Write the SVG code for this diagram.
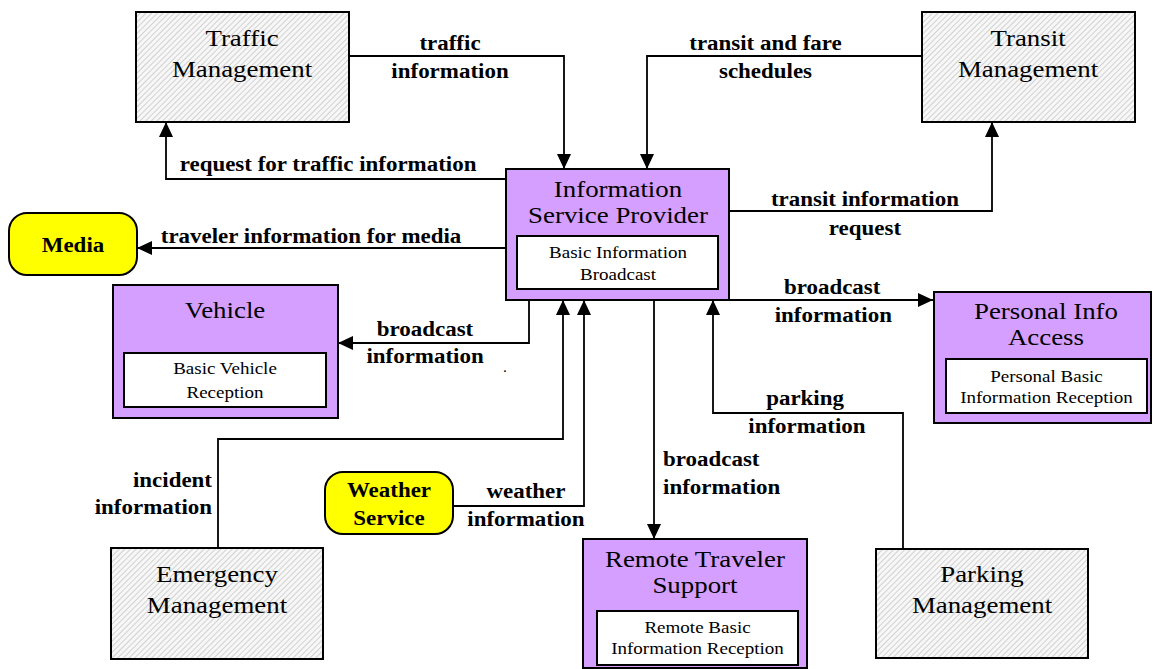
<svg xmlns="http://www.w3.org/2000/svg" width="1153" height="669" viewBox="0 0 1153 669">
<style>
.ext{fill:url(#hatch);stroke:#000;stroke-width:2}
.sub{fill:#d49fff;stroke:#000;stroke-width:2}
.inner{fill:#fff;stroke:#000;stroke-width:2}
.term{fill:#ffff00;stroke:#000;stroke-width:2}
.t{font-family:"Liberation Serif","Times New Roman",serif;font-size:24px;fill:#000;text-anchor:middle}
.s{font-family:"Liberation Serif","Times New Roman",serif;font-size:17px;fill:#000;text-anchor:middle}
.l{font-family:"Liberation Serif","Times New Roman",serif;font-size:20.5px;font-weight:bold;fill:#000;text-anchor:middle}
.c{fill:none;stroke:#000;stroke-width:1.8;marker-end:url(#arr)}
</style>
<defs>
<pattern id="hatch" patternUnits="userSpaceOnUse" width="4" height="4" patternTransform="rotate(45)">
<rect width="4" height="4" fill="#f7f7f7"/>
<line x1="0" y1="0" x2="0" y2="4" stroke="#b8b8b8" stroke-width="1.2"/>
</pattern>
<marker id="arr" markerUnits="userSpaceOnUse" markerWidth="15" markerHeight="14" viewBox="0 0 15 14" refX="15" refY="7" orient="auto">
<path d="M0,0 L15,7 L0,14 z" fill="#000"/>
</marker>
</defs>
<rect width="1153" height="669" fill="#fff"/>

<g id="connectors">
<path class="c" d="M349,56 H564 V169"/>
<path class="c" d="M922,56 H647 V169"/>
<path class="c" d="M506,179 H166 V122"/>
<path class="c" d="M729,211 H992 V122"/>
<path class="c" d="M506,248 H137"/>
<path class="c" d="M529,300 V343 H338"/>
<path class="c" d="M218,548 V439 H563 V300"/>
<path class="c" d="M453,506 H584 V300"/>
<path class="c" d="M654,300 V539"/>
<path class="c" d="M903,549 V413 H713 V300"/>
<path class="c" d="M729,300 H933"/>
<g transform="scale(1.12 1)">
<text class="l" x="401.8" y="50">traffic</text>
<text class="l" x="401.8" y="78">information</text>
<text class="l" x="683.5" y="50">transit and fare</text>
<text class="l" x="683.5" y="78">schedules</text>
<text class="l" x="292.9" y="171">request for traffic information</text>
<text class="l" x="772.3" y="206">transit information</text>
<text class="l" x="772.3" y="235">request</text>
<text class="l" x="277.7" y="243">traveler information for media</text>
<text class="l" x="743" y="294">broadcast</text>
<text class="l" x="744" y="322">information</text>
<text class="l" x="379.5" y="336">broadcast</text>
<text class="l" x="379.5" y="363">information</text>
<text class="l" x="718.8" y="405">parking</text>
<text class="l" x="720.5" y="433">information</text>
<text class="l" x="189.3" y="487" style="text-anchor:end">incident</text>
<text class="l" x="189.3" y="514" style="text-anchor:end">information</text>
<text class="l" x="469.6" y="498">weather</text>
<text class="l" x="469.6" y="526">information</text>
<text class="l" x="592" y="466" style="text-anchor:start">broadcast</text>
<text class="l" x="592" y="494" style="text-anchor:start">information</text>
<text class="s" x="450.9" y="372" style="font-size:14px">.</text>
</g>
</g>

<g id="traffic-management">
<rect class="ext" x="136" y="12" width="213" height="110"/>
<g transform="scale(1.12 1)">
<text class="t" x="216.1" y="46">Traffic</text>
<text class="t" x="216.1" y="77">Management</text>
</g>
</g>

<g id="transit-management">
<rect class="ext" x="922" y="12" width="213" height="110"/>
<g transform="scale(1.12 1)">
<text class="t" x="917.9" y="46">Transit</text>
<text class="t" x="917.9" y="77">Management</text>
</g>
</g>

<g id="isp">
<rect class="sub" x="506" y="169" width="223" height="131"/>
<rect class="inner" x="517" y="236" width="201" height="53"/>
<g transform="scale(1.12 1)">
<text class="t" x="551.8" y="197">Information</text>
<text class="t" x="551.8" y="223">Service Provider</text>
<text class="s" x="551.8" y="258">Basic Information</text>
<text class="s" x="551.8" y="280">Broadcast</text>
</g>
</g>

<g id="media">
<rect class="term" x="9" y="213" width="128" height="62" rx="18"/>
<g transform="scale(1.12 1)">
<text class="l" x="65.2" y="252">Media</text>
</g>
</g>

<g id="vehicle">
<rect class="sub" x="113" y="285" width="225" height="133"/>
<rect class="inner" x="124" y="353" width="202" height="54"/>
<g transform="scale(1.12 1)">
<text class="t" x="200.9" y="318">Vehicle</text>
<text class="s" x="200.9" y="374">Basic Vehicle</text>
<text class="s" x="200.9" y="398">Reception</text>
</g>
</g>

<g id="personal-info-access">
<rect class="sub" x="934" y="292" width="217" height="131"/>
<rect class="inner" x="946" y="359" width="201" height="54"/>
<g transform="scale(1.12 1)">
<text class="t" x="933.9" y="319">Personal Info</text>
<text class="t" x="933.9" y="345">Access</text>
<text class="s" x="934.4" y="382">Personal Basic</text>
<text class="s" x="934.4" y="403">Information Reception</text>
</g>
</g>

<g id="weather-service">
<rect class="term" x="325" y="472" width="128" height="62" rx="18"/>
<g transform="scale(1.12 1)">
<text class="l" x="347.3" y="497">Weather</text>
<text class="l" x="347.3" y="525">Service</text>
</g>
</g>

<g id="emergency-management">
<rect class="ext" x="111" y="548" width="212" height="111"/>
<g transform="scale(1.12 1)">
<text class="t" x="193.75" y="582">Emergency</text>
<text class="t" x="193.75" y="613">Management</text>
</g>
</g>

<g id="remote-traveler-support">
<rect class="sub" x="583" y="539" width="224" height="129"/>
<rect class="inner" x="597" y="611" width="201" height="54"/>
<g transform="scale(1.12 1)">
<text class="t" x="620.5" y="567">Remote Traveler</text>
<text class="t" x="620.5" y="593">Support</text>
<text class="s" x="622.8" y="633">Remote Basic</text>
<text class="s" x="622.8" y="654">Information Reception</text>
</g>
</g>

<g id="parking-management">
<rect class="ext" x="876" y="549" width="212" height="109"/>
<g transform="scale(1.12 1)">
<text class="t" x="876.8" y="582">Parking</text>
<text class="t" x="876.8" y="613">Management</text>
</g>
</g>
</svg>
